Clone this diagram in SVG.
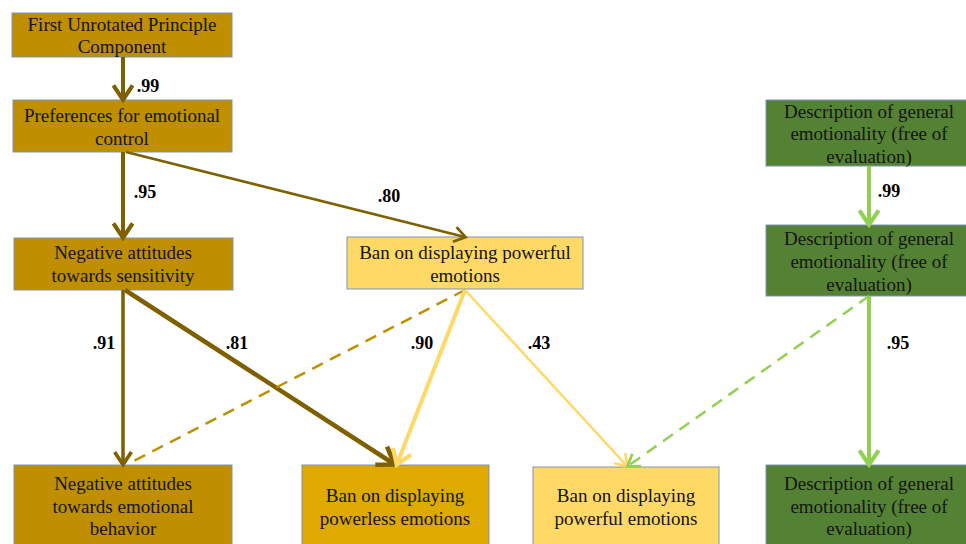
<svg xmlns="http://www.w3.org/2000/svg" width="966" height="544" viewBox="0 0 966 544">
<style>
.box{stroke:#8093B3;stroke-width:1}
.dk{fill:#BF8F00}
.md{fill:#DEA900}
.lt{fill:#FFD966}
.gr{fill:#548235}
text{font-family:"Liberation Serif","Times New Roman",serif;font-size:19px;fill:#141414;text-anchor:middle}
.lbl{font-weight:bold;fill:#000;font-size:18px}
.c{fill:none;stroke-linecap:butt}
.brown{stroke:#7F6000}
.yel{stroke:#FFD966}
.gold{stroke:#BF9000}
.grn{stroke:#92D050}
</style>
<defs>
<marker id="aB" viewBox="-1 -7 12 14" refX="8.5" refY="0" markerWidth="4.8" markerHeight="5.6" markerUnits="strokeWidth" orient="auto"><path d="M0,-6 L9,0 L0,6" fill="none" stroke="#7F6000" stroke-width="2.6"/></marker>
<marker id="aY" viewBox="-1 -7 12 14" refX="8.5" refY="0" markerWidth="4.8" markerHeight="5.6" markerUnits="strokeWidth" orient="auto"><path d="M0,-6 L9,0 L0,6" fill="none" stroke="#FFD966" stroke-width="2.6"/></marker>
<marker id="aG" viewBox="-1 -7 12 14" refX="8.5" refY="0" markerWidth="4.8" markerHeight="5.6" markerUnits="strokeWidth" orient="auto"><path d="M0,-6 L9,0 L0,6" fill="none" stroke="#92D050" stroke-width="2.6"/></marker>
<marker id="aBt" viewBox="-1 -7 12 14" refX="8.5" refY="0" markerWidth="6" markerHeight="7" markerUnits="strokeWidth" orient="auto"><path d="M0,-6 L9,0 L0,6" fill="none" stroke="#7F6000" stroke-width="2.2"/></marker>
<marker id="aYt" viewBox="-1 -7 12 14" refX="8.5" refY="0" markerWidth="6" markerHeight="7" markerUnits="strokeWidth" orient="auto"><path d="M0,-6 L9,0 L0,6" fill="none" stroke="#FFD966" stroke-width="2.2"/></marker>
<marker id="aGt" viewBox="-1 -7 12 14" refX="8.5" refY="0" markerWidth="6" markerHeight="7" markerUnits="strokeWidth" orient="auto"><path d="M0,-6 L9,0 L0,6" fill="none" stroke="#92D050" stroke-width="2.2"/></marker>
</defs>

<g id="n1"><rect class="box dk" x="12" y="13" width="220" height="44"/><text x="122" y="31">First Unrotated Principle</text><text x="122" y="53">Component</text></g>
<g id="n2"><rect class="box dk" x="13" y="100" width="219" height="52"/><text x="122" y="122">Preferences for emotional</text><text x="122" y="145">control</text></g>
<g id="n3"><rect class="box dk" x="14" y="238" width="219" height="52"/><text x="123" y="259">Negative attitudes</text><text x="123" y="282">towards sensitivity</text></g>
<g id="n4"><rect class="box lt" x="347" y="237" width="236" height="52"/><text x="465" y="259">Ban on displaying powerful</text><text x="465" y="282">emotions</text></g>
<g id="n5"><rect class="box gr" x="766" y="100" width="201" height="66"/><text x="869" y="118">Description of general</text><text x="869" y="140">emotionality (free of</text><text x="869" y="163">evaluation)</text></g>
<g id="n6"><rect class="box gr" x="766" y="225" width="201" height="71"/><text x="869" y="245">Description of general</text><text x="869" y="268">emotionality (free of</text><text x="869" y="291">evaluation)</text></g>
<g id="n7"><rect class="box dk" x="14" y="465" width="218" height="85"/><text x="123" y="490">Negative attitudes</text><text x="123" y="513">towards emotional</text><text x="123" y="535">behavior</text></g>
<g id="n8"><rect class="box md" x="302" y="465" width="187" height="85"/><text x="395" y="502">Ban on displaying</text><text x="395" y="525">powerless emotions</text></g>
<g id="n9"><rect class="box lt" x="533" y="467" width="186" height="85"/><text x="626" y="502">Ban on displaying</text><text x="626" y="525">powerful emotions</text></g>
<g id="n10"><rect class="box gr" x="766" y="465" width="201" height="85"/><text x="869" y="490">Description of general</text><text x="869" y="513">emotionality (free of</text><text x="869" y="535">evaluation)</text></g>

<g id="connectors">
<line class="c brown" x1="123" y1="57" x2="123" y2="99" stroke-width="4" marker-end="url(#aB)"/>
<line class="c brown" x1="123" y1="152" x2="123" y2="237" stroke-width="4" marker-end="url(#aB)"/>
<line class="c brown" x1="126" y1="152" x2="465" y2="237" stroke-width="2.5" marker-end="url(#aBt)"/>
<line class="c brown" x1="123" y1="290" x2="123" y2="464" stroke-width="3.5" marker-end="url(#aB)"/>
<line class="c brown" x1="125" y1="290" x2="394" y2="464" stroke-width="4.5" marker-end="url(#aB)"/>
<line class="c gold" x1="465" y1="290" x2="128" y2="464" stroke-width="2.5" stroke-dasharray="12,8"/>
<line class="c yel" x1="465" y1="290" x2="397" y2="464" stroke-width="4" marker-end="url(#aY)"/>
<line class="c yel" x1="465" y1="290" x2="627" y2="466" stroke-width="2.5" marker-end="url(#aYt)"/>
<line class="c grn" x1="869" y1="166" x2="869" y2="224" stroke-width="4" marker-end="url(#aG)"/>
<line class="c grn" x1="869" y1="296" x2="869" y2="464" stroke-width="4" marker-end="url(#aG)"/>
<line class="c grn" x1="869" y1="296" x2="628" y2="466" stroke-width="2.5" stroke-dasharray="12,8" marker-end="url(#aGt)"/>
</g>

<g id="labels">
<text class="lbl" x="148" y="92">.99</text>
<text class="lbl" x="145" y="198">.95</text>
<text class="lbl" x="389" y="202">.80</text>
<text class="lbl" x="104" y="349">.91</text>
<text class="lbl" x="237" y="349">.81</text>
<text class="lbl" x="422" y="349">.90</text>
<text class="lbl" x="539" y="349">.43</text>
<text class="lbl" x="889" y="197">.99</text>
<text class="lbl" x="898" y="349">.95</text>
</g>
</svg>
